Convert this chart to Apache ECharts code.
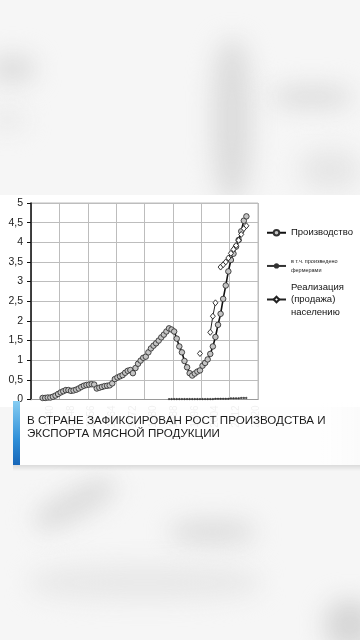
<!DOCTYPE html>
<html><head><meta charset="utf-8">
<script src="https://cdn.jsdelivr.net/npm/echarts@6/dist/echarts.min.js"></script>
<style>
html,body{margin:0;padding:0;width:360px;height:640px;overflow:hidden;background:#f6f6f6;}
#bg{position:absolute;left:0;top:0;width:360px;height:640px;overflow:hidden;}
.blob{position:absolute;filter:blur(12px);background:#dcdcdc;border-radius:40%;}
#panel{position:absolute;left:0;top:195px;width:360px;height:212px;background:#fff;}
#chart{position:absolute;left:0;top:0;width:360px;height:640px;}
#bar{position:absolute;left:13px;top:401px;width:7px;height:64px;background:linear-gradient(#86cdf2,#2f8fd8 60%,#1766b8);}
#banner{position:absolute;left:20px;top:402px;width:340px;height:63px;
 background:linear-gradient(to right,rgba(255,255,255,0.9) 0%,rgba(255,255,255,0.9) 88%,rgba(255,255,255,0.55) 100%);}
#bshadow{position:absolute;left:13px;top:465px;width:347px;height:6px;background:linear-gradient(rgba(200,200,200,0.6),rgba(230,230,230,0));}
#btext{position:absolute;left:27px;top:414px;font-family:"Liberation Sans",sans-serif;font-size:11.6px;line-height:12.5px;color:#1b1b1b;white-space:nowrap;}
</style></head>
<body>
<div id="bg">
 <div class="blob" style="left:212px;top:40px;width:40px;height:160px;"></div>
 <div class="blob" style="left:272px;top:86px;width:80px;height:22px;"></div>
 <div class="blob" style="left:-10px;top:55px;width:45px;height:28px;"></div>
 <div class="blob" style="left:-10px;top:110px;width:35px;height:20px;background:#e8e8e8;"></div>
 <div class="blob" style="left:300px;top:150px;width:60px;height:40px;background:#e6e6e6;"></div>
 <div class="blob" style="left:30px;top:490px;width:90px;height:28px;transform:rotate(-28deg);"></div>
 <div class="blob" style="left:170px;top:520px;width:85px;height:24px;"></div>
 <div class="blob" style="left:30px;top:565px;width:230px;height:35px;background:#e8e8e8;"></div>
 <div class="blob" style="left:325px;top:600px;width:50px;height:50px;background:#d6d6d6;"></div>
</div>
<div id="panel"></div>
<div id="chart"></div>
<div id="bshadow"></div>
<div id="bar"></div>
<div id="banner"></div>
<div id="btext">В СТРАНЕ ЗАФИКСИРОВАН РОСТ ПРОИЗВОДСТВА И<br>ЭКСПОРТА МЯСНОЙ ПРОДУКЦИИ</div>
<script>
// categories (years)
const firstYear = 1933, lastYear = 2020;
const years = [];
for (let y = firstYear; y <= lastYear; y++) years.push(String(y));

// Производство, 1937..2016
const prodStart = 1937;
const production = [
 0.04,0.04,0.05,0.05,0.07,0.10,0.14,0.18,0.21,0.24,
 0.24,0.22,0.23,0.25,0.28,0.32,0.35,0.37,0.38,0.39,
 0.38,0.28,0.30,0.32,0.34,0.35,0.36,0.41,0.52,0.56,
 0.59,0.62,0.68,0.73,0.75,0.67,0.80,0.91,0.99,1.06,
 1.09,1.20,1.30,1.37,1.43,1.50,1.58,1.65,1.73,1.81,
 1.78,1.73,1.55,1.35,1.20,0.98,0.82,0.67,0.61,0.66,
 0.71,0.74,0.86,0.93,1.02,1.16,1.35,1.59,1.90,2.18,
 2.56,2.90,3.26,3.55,3.71,3.89,4.06,4.28,4.55,4.66
];
// в т.ч. произведено фермерами, 1986..2016
const farmStart = 1986;
const farmers = [
 0.01,0.01,0.01,0.01,0.01,0.01,0.01,0.01,0.01,0.01,
 0.01,0.01,0.01,0.01,0.01,0.01,0.01,0.01,0.02,0.02,
 0.02,0.02,0.02,0.02,0.03,0.03,0.03,0.03,0.04,0.04,0.04
];
// Реализация (продажа) населению, 1998..2016 (null = нет данных)
const saleStart = 1998;
const sales = [
 1.17,null,null,null,1.71,2.12,2.46,null,
 3.37,3.43,3.50,3.60,3.72,3.82,3.92,4.05,4.20,4.35,4.42
];
const yTicks = {min:0, max:5, step:0.5};

function align(start, vals){
  const out = years.map(()=>null);
  vals.forEach((v,i)=>{ out[start - firstYear + i] = v; });
  return out;
}

const FONT = '"Liberation Sans", "Noto Sans", sans-serif';
const chart = echarts.init(document.getElementById('chart'), null, {renderer:'canvas'});
chart.setOption({
  animation:false,
  backgroundColor:'transparent',
  grid:{left:31, right:102, top:203, bottom:240.5, show:true, borderColor:'#bdbdbd', borderWidth:1, containLabel:false},
  xAxis:{
    type:'category', data:years, boundaryGap:true,
    axisLine:{lineStyle:{color:'#9a9a9a', width:1}},
    axisTick:{interval:10, length:4, lineStyle:{color:'#9a9a9a'}},
    splitLine:{show:true, interval:10, lineStyle:{color:'#bdbdbd', width:1}},
    axisLabel:{rotate:90, fontSize:10, color:'#666', fontFamily:FONT, margin:6,
      interval:(i)=> i % 8 === 7}
  },
  yAxis:{
    type:'value', min:yTicks.min, max:yTicks.max, interval:yTicks.step,
    axisLine:{show:true, lineStyle:{color:'#111', width:1.5}},
    axisTick:{show:true, length:4, lineStyle:{color:'#111'}},
    splitLine:{lineStyle:{color:'#bdbdbd', width:1}},
    axisLabel:{fontSize:10.5, color:'#222', fontFamily:FONT, margin:8,
      formatter:(v)=>String(v).replace('.',',')}
  },
  legend:[
    {data:['Производство'], left:266, top:227, padding:0, itemWidth:19, itemHeight:7,
     textStyle:{fontSize:9.5, lineHeight:11.5, color:'#111', fontFamily:FONT}},
    {data:['в т.ч. произведено фермерами'], left:266, top:253.5, padding:0, itemWidth:19, itemHeight:4,
     formatter:()=> 'в т.ч. произведено\nфермерами',
     textStyle:{fontSize:5.5, lineHeight:8.3, padding:[8.3,0,0,0], color:'#222', fontFamily:FONT}},
    {data:['Реализация (продажа) населению'], left:266, top:268, padding:0, itemWidth:19, itemHeight:7,
     formatter:()=> 'Реализация\n(продажа)\nнаселению',
     textStyle:{fontSize:9.5, lineHeight:12.6, padding:[25.2,0,0,0], color:'#111', fontFamily:FONT}}
  ],
  series:[
    {name:'Производство', type:'line', data:align(prodStart, production),
     symbol:'circle', symbolSize:5.5, showAllSymbol:true,
     lineStyle:{color:'#111', width:1.6},
     itemStyle:{color:'#c4c4c4', borderColor:'#333', borderWidth:0.9}},
    {name:'в т.ч. произведено фермерами', type:'line', data:align(farmStart, farmers),
     symbol:'circle', symbolSize:1.6, showAllSymbol:true,
     lineStyle:{color:'#333', width:0.8},
     itemStyle:{color:'#333', borderColor:'#333', borderWidth:0.4}},
    {name:'Реализация (продажа) населению', type:'line', data:align(saleStart, sales),
     symbol:'diamond', symbolSize:[5,6], showAllSymbol:true, connectNulls:false,
     lineStyle:{color:'#222', width:1},
     itemStyle:{color:'#fff', borderColor:'#222', borderWidth:0.9}}
  ]
});
</script>
</body></html>
